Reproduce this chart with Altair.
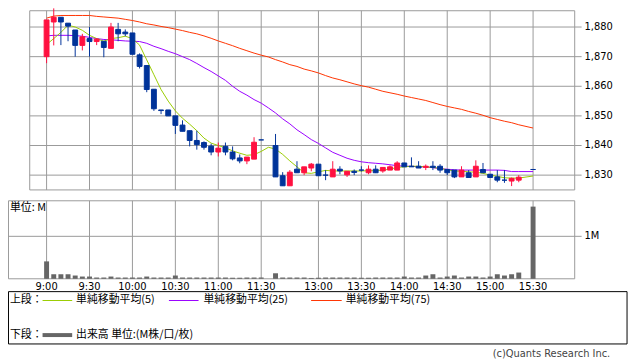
import altair as alt
import pandas as pd

# ---------------- data ----------------
idx = list(range(0, 31)) + list(range(32, 67)) + [68]
o = [1870.0, 1881.7, 1883.3, 1881.3, 1879.0, 1873.8, 1876.1, 1875.1, 1875.2, 1872.8,
     1879.2, 1878.3, 1878.0, 1870.6, 1867.0, 1859.0, 1852.0, 1852.0, 1850.0, 1846.9,
     1845.0, 1841.7, 1841.0, 1839.8, 1837.8, 1839.7, 1837.8, 1835.8, 1834.8, 1835.4,
     1841.9,
     1840.0, 1829.8, 1826.4, 1832.0, 1830.8, 1832.4, 1833.7, 1830.0, 1829.4, 1832.0,
     1830.1, 1831.3, 1831.7, 1830.8, 1832.0, 1831.4, 1831.7, 1831.7, 1834.1, 1833.0,
     1833.0, 1832.6, 1833.0, 1833.0, 1831.9, 1831.7, 1829.4, 1830.8, 1829.4, 1831.9,
     1830.3, 1829.4, 1828.3, 1828.0, 1828.3,
     1831.9]
h = [1882.4, 1886.3, 1883.3, 1881.3, 1879.0, 1877.7, 1880.0, 1876.3, 1875.2, 1881.4,
     1881.4, 1879.2, 1878.0, 1871.1, 1867.0, 1859.0, 1852.0, 1852.0, 1850.0, 1848.5,
     1845.0, 1845.0, 1841.4, 1840.6, 1841.0, 1841.0, 1839.7, 1837.0, 1836.1, 1842.8,
     1841.9,
     1843.9, 1831.0, 1831.7, 1834.7, 1832.8, 1834.1, 1833.7, 1831.7, 1834.7, 1833.0,
     1831.3, 1831.9, 1833.0, 1833.3, 1833.3, 1832.6, 1833.3, 1834.7, 1834.1, 1836.0,
     1834.7, 1833.6, 1834.7, 1833.7, 1831.9, 1831.7, 1833.0, 1831.7, 1835.0, 1834.1,
     1830.3, 1831.7, 1831.7, 1829.2, 1830.0,
     1831.9]
l = [1867.8, 1873.8, 1873.9, 1875.2, 1870.0, 1872.1, 1870.0, 1873.9, 1869.8, 1872.8,
     1875.2, 1876.9, 1870.8, 1866.0, 1858.0, 1851.7, 1850.6, 1850.0, 1843.9, 1844.8,
     1839.7, 1838.6, 1838.6, 1836.7, 1836.3, 1836.7, 1835.0, 1834.0, 1833.7, 1835.4,
     1841.9,
     1829.4, 1826.4, 1826.4, 1830.8, 1830.0, 1831.3, 1829.8, 1828.3, 1829.4, 1830.3,
     1829.4, 1830.0, 1831.2, 1830.3, 1830.7, 1830.8, 1831.7, 1831.7, 1832.8, 1832.8,
     1832.4, 1831.7, 1831.7, 1830.8, 1830.0, 1829.0, 1829.4, 1829.2, 1829.4, 1830.8,
     1829.2, 1827.6, 1827.4, 1826.3, 1827.6,
     1831.9]
c = [1882.4, 1883.3, 1881.7, 1880.3, 1873.8, 1876.7, 1875.1, 1875.9, 1873.1, 1880.0,
     1877.7, 1877.7, 1870.8, 1866.7, 1858.9, 1852.4, 1851.8, 1850.0, 1846.8, 1844.8,
     1841.7, 1840.3, 1839.4, 1837.8, 1839.1, 1837.8, 1835.5, 1834.8, 1836.1, 1841.1,
     1841.9,
     1829.4, 1826.4, 1831.0, 1830.8, 1832.8, 1833.7, 1829.8, 1830.0, 1832.0, 1831.4,
     1831.3, 1830.9, 1831.7, 1832.0, 1830.8, 1832.6, 1832.8, 1834.1, 1832.8, 1832.8,
     1832.4, 1833.0, 1832.6, 1831.7, 1830.8, 1829.4, 1831.7, 1829.2, 1833.0, 1830.8,
     1829.2, 1828.3, 1828.3, 1828.9, 1829.3,
     1831.9]
vol = [0.41, 0.107, 0.107, 0.107, 0.077, 0.053, 0.053, 0.03, 0.03, 0.053,
       0.03, 0.03, 0.03, 0.03, 0.053, 0.03, 0.03, 0.03, 0.077, 0.03,
       0.03, 0.03, 0.03, 0.03, 0.03, 0.03, 0.025, 0.025, 0.03, 0.03,
       0.03,
       0.13, 0.03, 0.03, 0.03, 0.03, 0.02, 0.025, 0.03, 0.03, 0.03,
       0.03, 0.03, 0.025, 0.025, 0.03, 0.03, 0.03, 0.03, 0.053, 0.03,
       0.03, 0.077, 0.107, 0.03, 0.053, 0.077, 0.03, 0.053, 0.053, 0.03,
       0.053, 0.107, 0.077, 0.107, 0.147,
       1.70]

ma_idx = list(range(0, 67)) + [68]
ma5 = [1874.1, 1876.1, 1878.2, 1880.6, 1880.0, 1878.9, 1877.2, 1876.1, 1875.2, 1876.1,
       1876.4, 1876.9, 1876.1, 1873.9, 1868.9, 1863.9, 1858.9, 1855.0, 1851.7, 1849.2,
       1847.2, 1845.0, 1842.5, 1840.8, 1840.0, 1839.2, 1838.2, 1837.4, 1836.7, 1836.9,
       1838.0, 1839.4, 1838.8, 1837.0, 1834.8, 1832.8, 1830.8, 1830.6, 1831.1, 1831.6,
       1831.4, 1831.4, 1831.4, 1831.4, 1831.4, 1831.5, 1831.5, 1831.7, 1832.0, 1832.6,
       1832.8, 1833.0, 1833.0, 1832.8, 1832.6, 1832.3, 1831.8, 1831.4, 1831.3, 1831.1,
       1831.0, 1830.6, 1830.0, 1829.6, 1829.1, 1829.0, 1829.0,
       1829.7]
ma25 = [1877.0, 1877.2, 1877.2, 1877.2, 1877.1, 1876.9, 1876.5, 1876.1, 1875.8, 1875.7,
        1875.5, 1875.3, 1875.2, 1875.1, 1874.5, 1873.5, 1872.7, 1871.8, 1871.0, 1870.0,
        1869.0, 1867.7, 1866.3, 1865.0, 1863.5, 1862.0, 1860.0, 1858.3, 1857.0, 1855.5,
        1854.3, 1852.7, 1851.0, 1849.0, 1847.3, 1845.3, 1843.7, 1842.0, 1840.7, 1839.2,
        1837.7, 1836.7, 1835.7, 1835.0, 1834.5, 1834.2, 1834.0, 1833.8, 1833.5, 1833.2,
        1833.0, 1833.0, 1832.8, 1832.8, 1832.5, 1832.2, 1832.0, 1831.8, 1831.7, 1831.7,
        1831.7, 1831.7, 1831.7, 1831.7, 1831.6, 1831.2, 1831.2,
        1831.2]
ma75 = [1883.0, 1883.7, 1883.9, 1883.9, 1883.9, 1883.9, 1883.9, 1883.6, 1883.4, 1883.2,
        1883.0, 1882.6, 1882.2, 1881.7, 1881.1, 1880.7, 1880.2, 1879.8, 1879.3, 1878.8,
        1878.2, 1877.7, 1877.0, 1876.2, 1875.3, 1874.5, 1873.7, 1872.8, 1872.0, 1871.2,
        1870.5, 1869.9, 1869.0, 1868.2, 1867.3, 1866.7, 1865.8, 1865.2, 1864.5, 1863.6,
        1862.8, 1862.2, 1861.5, 1860.8, 1860.2, 1859.7, 1859.0, 1858.3, 1857.8, 1857.3,
        1856.7, 1856.2, 1855.7, 1855.2, 1854.5, 1853.8, 1853.2, 1852.7, 1852.2, 1851.5,
        1850.9, 1850.2, 1849.4, 1848.8, 1848.2, 1847.7, 1847.0,
        1845.9]

tick_idx = [0, 6, 12, 18, 24, 30, 38, 44, 50, 56, 62, 68]
tick_labels = ["9:00", "9:30", "10:00", "10:30", "11:00", "11:30",
               "13:00", "13:30", "14:00", "14:30", "15:00", "15:30"]
price_ticks = [1830, 1840, 1850, 1860, 1870, 1880]
price_labels = ["1,830", "1,840", "1,850", "1,860", "1,870", "1,880"]
vol_ticks = [1.0]
vol_labels = ["1M"]

# ---------------- styles ----------------
RED = "#ff1040"
BLUE = "#003399"
GRID = "#999999"
C5 = "#99cc00"
C25 = "#9900ff"
C75 = "#ff3300"
VOLC = "#666666"
FNUM = "DejaVu Sans"
FJP = "Noto Sans CJK JP"

xs = alt.Scale(domain=[-1.667, 73.13], range=[22, 574], nice=False, zero=False)
ps = alt.Scale(domain=[1825, 1888.333], range=[182, -8], nice=False, zero=False)
vs = alt.Scale(domain=[0, 1.837], range=[272, 193], nice=False, zero=False)
cs = alt.Scale(domain=["up", "down"], range=[RED, BLUE])

cdf = pd.DataFrame({"i": idx, "o": o, "h": h, "l": l, "c": c, "v": vol})
mdf = pd.DataFrame({"i": ma_idx, "m5": ma5, "m25": ma25, "m75": ma75})
tdf = pd.DataFrame({"i": tick_idx, "lab": tick_labels})
pdf = pd.DataFrame({"p": price_ticks, "lab": price_labels})
vdf = pd.DataFrame({"v": vol_ticks, "lab": vol_labels})
one = pd.DataFrame({"a": [0]})

X = lambda f: alt.X(f, scale=xs, axis=None)
YP = lambda f: alt.Y(f, scale=ps, axis=None)
YV = lambda f: alt.Y(f, scale=vs, axis=None)

def box(x1, x2, y1, y2, color, sw=1):
    return alt.Chart(one).mark_rect(fillOpacity=0, stroke=color, strokeWidth=sw).encode(
        x=alt.value(x1), x2=alt.value(x2), y=alt.value(y1), y2=alt.value(y2))

def hline(x1, x2, y, color, sw=1):
    return alt.Chart(one).mark_rule(color=color, strokeWidth=sw).encode(
        x=alt.value(x1), x2=alt.value(x2), y=alt.value(y))

def label(txt, x, y, size=11, font=FJP, align="left", color="#000000"):
    return alt.Chart(one).mark_text(text=txt, font=font, fontSize=size, align=align,
                                    baseline="middle", color=color).encode(
        x=alt.value(x), y=alt.value(y))

layers = []
# frames
layers.append(box(22, 574, 0.5, 182, GRID))
layers.append(box(0.5, 574, 193, 272, GRID))
# grids
layers.append(alt.Chart(pdf).mark_rule(color=GRID).encode(
    y=YP("p:Q"), x=alt.value(22), x2=alt.value(581)))
layers.append(alt.Chart(pdf).mark_text(align="left", baseline="middle", font=FNUM,
                                       fontSize=10, color="#000000").encode(
    y=YP("p:Q"), x=alt.value(584), text="lab:N"))
layers.append(alt.Chart(vdf).mark_rule(color=GRID).encode(
    y=YV("v:Q"), x=alt.value(0.5), x2=alt.value(581)))
layers.append(alt.Chart(vdf).mark_text(align="left", baseline="middle", font=FNUM,
                                       fontSize=10, color="#000000").encode(
    y=YV("v:Q"), x=alt.value(584), text="lab:N"))
layers.append(alt.Chart(tdf).mark_rule(color=GRID).encode(
    x=X("i:Q"), y=alt.value(0.5), y2=alt.value(182)))
layers.append(alt.Chart(tdf).mark_rule(color=GRID).encode(
    x=X("i:Q"), y=alt.value(193), y2=alt.value(272)))
layers.append(alt.Chart(tdf).mark_text(align="center", baseline="middle", font=FNUM,
                                       fontSize=10, color="#000000").encode(
    x=X("i:Q"), y=alt.value(280), text="lab:N"))

# volume
layers.append(alt.Chart(cdf).mark_bar(size=5, color=VOLC).encode(
    x=X("i:Q"), y=YV("v:Q")))

# moving averages
for col, colr in (("m75", C75), ("m25", C25), ("m5", C5)):
    layers.append(alt.Chart(mdf).mark_line(color=colr, strokeWidth=1).encode(
        x=X("i:Q"), y=YP(f"{col}:Q")))

# candles
cbase = alt.Chart(cdf).transform_calculate(
    dir="datum.c > datum.o ? 'up' : 'down'",
    xl="datum.i - 0.34",
    xr="datum.i + 0.34")
layers.append(cbase.mark_rule(strokeWidth=1).encode(
    x=X("i:Q"), y=YP("l:Q"), y2="h:Q",
    color=alt.Color("dir:N", scale=cs, legend=None)))
layers.append(cbase.mark_rect(strokeWidth=1).encode(
    x=X("xl:Q"), x2="xr:Q", y=YP("o:Q"), y2="c:Q",
    color=alt.Color("dir:N", scale=cs, legend=None),
    stroke=alt.Stroke("dir:N", scale=cs, legend=None)))

# panel caption
layers.append(label("単位: M", 2, 200, size=11))

# legend box
layers.append(box(0.5, 627, 285, 338, "#000000"))
layers.append(label("上段：", 2, 294))
layers.append(hline(35, 65, 294, C5))
layers.append(label("単純移動平均(5)", 69, 294))
layers.append(hline(163, 193, 294, C25))
layers.append(label("単純移動平均(25)", 198, 294))
layers.append(hline(307, 338, 294, C75))
layers.append(label("単純移動平均(75)", 342, 294))
layers.append(label("下段：", 2, 329))
layers.append(hline(35, 65, 329, VOLC, sw=4))
layers.append(label("出来高 単位:(M株/口/枚)", 69, 329))
layers.append(label("(c)Quants Research Inc.", 610, 348, size=10, font=FNUM,
                    align="right", color="#444444"))

chart = alt.layer(*layers).resolve_scale(y="independent").properties(
    width=630, height=354,
    autosize=alt.AutoSizeParams(type="none"),
    padding=0,
).configure_view(strokeWidth=0)

chart.save("out.html", embed_options={"renderer": "svg", "actions": False})
